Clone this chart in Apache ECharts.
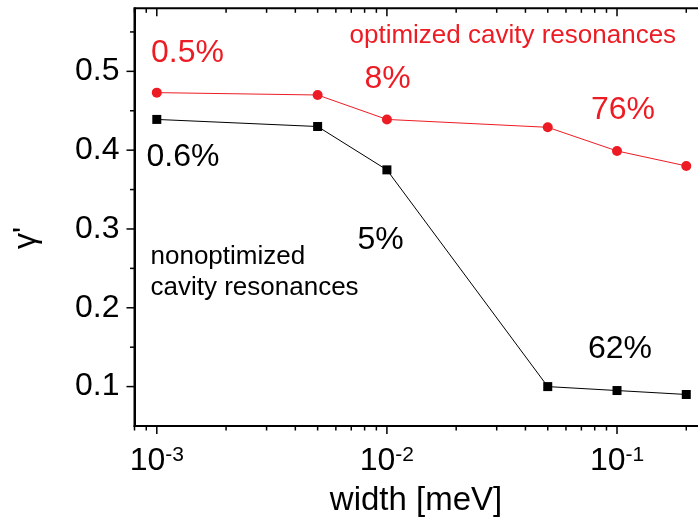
<!DOCTYPE html>
<html>
<head>
<meta charset="utf-8">
<script src="https://cdn.jsdelivr.net/npm/echarts@6/dist/echarts.min.js"></script>
<style>
html,body{margin:0;padding:0;background:#fff;}
#chart{width:698px;height:523px;}
</style>
</head>
<body>
<div id="chart"></div>
<script>
// ---- data ----
const widths = [0.001, 0.005, 0.01, 0.05, 0.1, 0.2];
const optimized = [0.473, 0.470, 0.439, 0.429, 0.399, 0.380];
const nonoptimized = [0.439, 0.430, 0.375, 0.100, 0.095, 0.090];
const xMajorTicks = [0.001, 0.01, 0.1];
const xMinorTicks = [0.0008, 0.0009, 0.002, 0.003, 0.004, 0.005, 0.006, 0.007, 0.008, 0.009,
                     0.02, 0.03, 0.04, 0.05, 0.06, 0.07, 0.08, 0.09, 0.2];
const yMajorTicks = [0.1, 0.2, 0.3, 0.4, 0.5];
const yMinorTicks = [0.15, 0.25, 0.35, 0.45, 0.55];
const X_MIN = 0.0008, X_MAX = 0.3, Y_MIN = 0.05, Y_MAX = 0.58;

const RED = '#ed1c24';
const FONT = '"Liberation Sans", Arial, Helvetica, sans-serif';

const chart = echarts.init(document.getElementById('chart'), null, {renderer: 'canvas'});

function xTickItem(params, api) {
  const v = api.value(0);
  const major = api.value(2) === 1;
  const len = major ? 8 : 4.5;
  const pb = api.coord([v, Y_MIN]);
  const pt = api.coord([v, Y_MAX]);
  const st = {stroke: '#000', lineWidth: 1.5};
  return {type: 'group', children: [
    {type: 'line', shape: {x1: pb[0], y1: pb[1], x2: pb[0], y2: pb[1] + len}, style: st},
    {type: 'line', shape: {x1: pt[0], y1: pt[1], x2: pt[0], y2: pt[1] + len}, style: st}
  ]};
}
function yTickItem(params, api) {
  const v = api.value(1);
  const major = api.value(2) === 1;
  const len = major ? 8 : 4.5;
  const p = api.coord([X_MIN, v]);
  return {type: 'line', shape: {x1: p[0] - len, y1: p[1], x2: p[0], y2: p[1]},
          style: {stroke: '#000', lineWidth: 1.5}};
}

const option = {
  animation: false,
  backgroundColor: '#fff',
  grid: {left: 134.5, top: 8.3, width: 592.3, bottom: 97, show: true,
         outerBoundsMode: 'none', containLabel: false,
         borderColor: '#000', borderWidth: 2, backgroundColor: 'transparent'},
  xAxis: [{
    type: 'log', logBase: 10, min: X_MIN, max: X_MAX,
    axisLine: {show: true, lineStyle: {color: '#000', width: 2}},
    axisTick: {show: false}, splitLine: {show: false},
    axisLabel: {
      margin: 19, showMinLabel: false, showMaxLabel: false,
      formatter: function (v) {
        const e = Math.log10(v);
        if (Math.abs(e - Math.round(e)) > 1e-6) return '';
        return '{b|10}{s|' + Math.round(e) + '}';
      },
      rich: {
        b: {fontFamily: FONT, fontSize: 32, color: '#000', lineHeight: 32},
        s: {fontFamily: FONT, fontSize: 21, color: '#000', lineHeight: 14, verticalAlign: 'top'}
      }
    }
  }],
  yAxis: [{
    type: 'value', min: Y_MIN, max: Y_MAX, interval: 0.05,
    axisLine: {show: true, lineStyle: {color: '#000', width: 2}},
    axisTick: {show: false}, splitLine: {show: false},
    axisLabel: {
      margin: 15, fontFamily: FONT, fontSize: 32, color: '#000',
      formatter: function (v) {
        const t = v * 10;
        if (Math.abs(t - Math.round(t)) > 1e-6 || v > 0.55) return '';
        return v.toFixed(1);
      }
    }
  }],
  series: [
    {
      type: 'custom', renderItem: xTickItem, silent: true, clip: false,
      data: xMajorTicks.map(v => [v, Y_MIN, 1]).concat(xMinorTicks.map(v => [v, Y_MIN, 0])),
      z: 5
    },
    {
      type: 'custom', renderItem: yTickItem, silent: true, clip: false,
      data: yMajorTicks.map(v => [X_MIN, v, 1]).concat(yMinorTicks.map(v => [X_MIN, v, 0])),
      z: 5
    },
    {
      name: 'nonoptimized', type: 'line',
      data: widths.map((w, i) => [w, nonoptimized[i]]),
      symbol: 'rect', symbolSize: 9,
      itemStyle: {color: '#000'},
      lineStyle: {color: '#000', width: 1},
      z: 3
    },
    {
      name: 'optimized', type: 'line',
      data: widths.map((w, i) => [w, optimized[i]]),
      symbol: 'circle', symbolSize: 10,
      itemStyle: {color: RED},
      lineStyle: {color: RED, width: 1},
      z: 4
    }
  ],
  graphic: [
    {type: 'text', x: 151, y: 53.5, style: {text: '0.5%', font: '32px ' + FONT, fill: RED, verticalAlign: 'middle'}},
    {type: 'text', x: 146.5, y: 157, style: {text: '0.6%', font: '32px ' + FONT, fill: '#000', verticalAlign: 'middle'}},
    {type: 'text', x: 364.5, y: 79.5, style: {text: '8%', font: '32px ' + FONT, fill: RED, verticalAlign: 'middle'}},
    {type: 'text', x: 591, y: 110, style: {text: '76%', font: '32px ' + FONT, fill: RED, verticalAlign: 'middle'}},
    {type: 'text', x: 357.5, y: 240, style: {text: '5%', font: '32px ' + FONT, fill: '#000', verticalAlign: 'middle'}},
    {type: 'text', x: 588, y: 349.5, style: {text: '62%', font: '32px ' + FONT, fill: '#000', verticalAlign: 'middle'}},
    {type: 'text', x: 349.5, y: 36, style: {text: 'optimized cavity resonances', font: '26px ' + FONT, fill: RED, verticalAlign: 'middle'}},
    {type: 'text', x: 150.5, y: 256.5, style: {text: 'nonoptimized', font: '26px ' + FONT, fill: '#000', verticalAlign: 'middle'}},
    {type: 'text', x: 150.5, y: 287.5, style: {text: 'cavity resonances', font: '26px ' + FONT, fill: '#000', verticalAlign: 'middle'}},
    {type: 'text', x: 416, y: 501, style: {text: 'width [meV]', font: '33px ' + FONT, fill: '#000', align: 'center', verticalAlign: 'middle'}},
    {type: 'text', x: 26, y: 238, rotation: Math.PI / 2, style: {text: "γ'", font: '32px ' + FONT, fill: '#000', align: 'center', verticalAlign: 'middle'}}
  ]
};
chart.setOption(option);
</script>
</body>
</html>
